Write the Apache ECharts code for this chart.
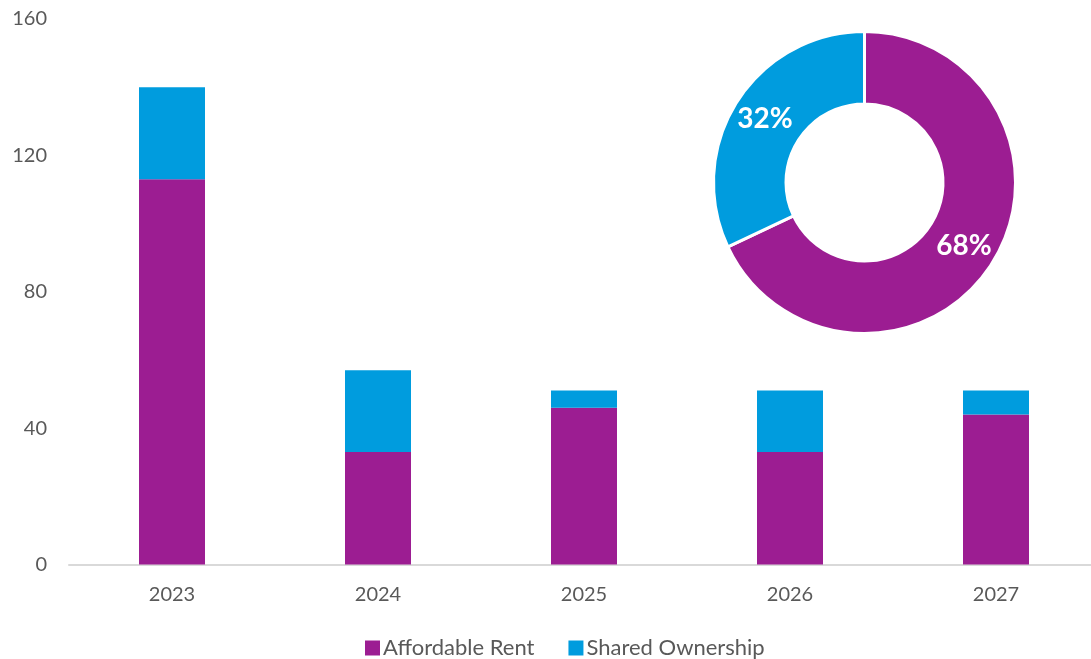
<!DOCTYPE html>
<html>
<head>
<meta charset="utf-8">
<script src="https://cdn.jsdelivr.net/npm/echarts@6/dist/echarts.min.js"></script>
<style>
  html, body { margin: 0; padding: 0; background: #ffffff; }
  #chart { width: 1091px; height: 659px; }
</style>
</head>
<body>
<div id="chart"></div>
<script>
// Completions per year by tenure
const years = ['2023', '2024', '2025', '2026', '2027'];
const affordableRent = [113, 33, 46, 33, 44];
const sharedOwnership = [27, 24, 5, 18, 7];
// Overall tenure split (%)
const splitLabels = ['Affordable Rent', 'Shared Ownership'];
const splitValues = [68, 32];

const PURPLE = '#9c1d92';
const BLUE = '#009cde';
const TEXT = '#595959';
const FONT = 'Lato, "Open Sans", sans-serif';

const chart = echarts.init(document.getElementById('chart'));
chart.setOption({
  animation: false,
  textStyle: { fontFamily: FONT },
  grid: {
    left: 69, width: 1030, top: 19, height: 545.5,
    outerBoundsMode: 'none'
  },
  legend: {
    data: splitLabels,
    left: 360,
    top: 632,
    icon: 'rect',
    itemWidth: 15,
    itemHeight: 15,
    itemGap: 34,
    textStyle: { color: TEXT, fontSize: 22, fontFamily: FONT, padding: [0, 0, 0, -2] }
  },
  xAxis: {
    type: 'category',
    data: years,
    axisLine: { lineStyle: { color: '#d9d9d9', width: 2 } },
    axisTick: { show: false },
    axisLabel: { color: TEXT, fontSize: 20, margin: 20, fontFamily: FONT }
  },
  yAxis: {
    type: 'value',
    min: 0,
    max: 160,
    interval: 40,
    axisLine: { show: false },
    axisTick: { show: false },
    splitLine: { show: false },
    axisLabel: { color: TEXT, fontSize: 20, margin: 22, fontFamily: FONT }
  },
  series: [
    {
      name: splitLabels[0],
      type: 'bar',
      stack: 'units',
      barWidth: 66,
      itemStyle: { color: PURPLE },
      data: affordableRent
    },
    {
      name: splitLabels[1],
      type: 'bar',
      stack: 'units',
      barWidth: 66,
      itemStyle: { color: BLUE },
      data: sharedOwnership
    },
    {
      type: 'pie',
      center: [864.5, 182.5],
      radius: [78.5, 151],
      startAngle: 90,
      clockwise: true,
      legendHoverLink: false,
      itemStyle: { borderColor: '#ffffff', borderWidth: 3 },
      label: {
        show: true,
        position: 'inside',
        formatter: '{c}%',
        color: '#ffffff',
        fontSize: 28,
        fontWeight: 'bold',
        fontFamily: FONT
      },
      labelLine: { show: false },
      data: [
        { name: splitLabels[0], value: splitValues[0], itemStyle: { color: PURPLE } },
        { name: splitLabels[1], value: splitValues[1], itemStyle: { color: BLUE } }
      ]
    }
  ]
});
</script>
</body>
</html>
